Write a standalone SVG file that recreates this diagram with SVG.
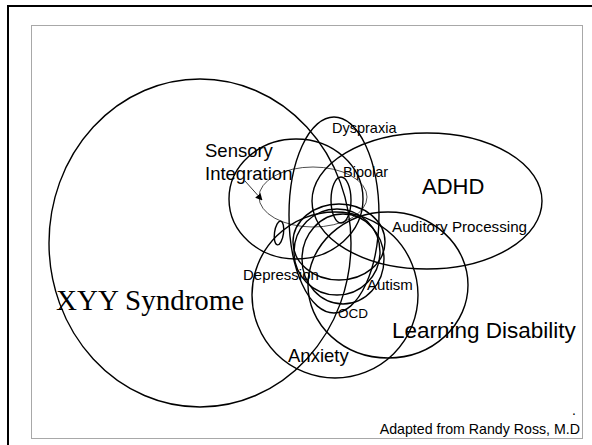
<svg xmlns="http://www.w3.org/2000/svg" width="592" height="445" viewBox="0 0 592 445">
<defs>
<style>
.e{fill:none;stroke:#000;stroke-width:1.4}
.thin{fill:none;stroke:#000;stroke-width:0.7}
.t{font-family:"Liberation Sans",Arial,sans-serif;fill:#000}
.s{font-family:"Liberation Serif","Times New Roman",serif;fill:#000}
</style>
<marker id="ah" viewBox="0 0 10 10" refX="9" refY="5" markerWidth="7" markerHeight="7" orient="auto" markerUnits="userSpaceOnUse">
<path d="M0,0 L10,5 L0,10 z" fill="#000"/>
</marker>
</defs>
<rect x="0" y="0" width="592" height="445" fill="#fff"/>
<rect x="8" y="6" width="592" height="450" fill="none" stroke="#000" stroke-width="2"/>
<rect x="31.5" y="25.5" width="551" height="413" fill="none" stroke="#a8a8a8" stroke-width="1"/>

<g id="xyy">
<ellipse class="e" cx="200" cy="243" rx="151" ry="164"/>
<text class="s" x="56" y="310" font-size="29">XYY Syndrome</text>
</g>
<g id="sensory">
<ellipse class="e" cx="296" cy="199" rx="67" ry="60"/>
<ellipse class="thin" cx="313" cy="197" rx="54" ry="30"/>
<text class="t" x="205" y="157" font-size="18.5">Sensory</text>
<text class="t" x="205" y="180" font-size="18.5">Integration</text>
</g>
<g id="dyspraxia">
<ellipse class="e" cx="334" cy="215" rx="45" ry="98"/>
<text class="t" x="332" y="133" font-size="14.5">Dyspraxia</text>
</g>
<g id="adhd">
<ellipse class="e" cx="427" cy="201" rx="115" ry="68"/>
<text class="t" x="422" y="194" font-size="22">ADHD</text>
</g>
<g id="bipolar">
<ellipse class="e" cx="341" cy="200" rx="10" ry="23"/>
<text class="t" x="343" y="177" font-size="14.5">Bipolar</text>
</g>
<g id="small">
<ellipse class="e" cx="279" cy="233" rx="4.5" ry="12" transform="rotate(8 279 233)"/>
</g>
<g id="learning">
<ellipse class="e" cx="388" cy="285" rx="80" ry="73"/>
<text class="t" x="392" y="338" font-size="22.5">Learning Disability</text>
</g>
<g id="auditory">
<text class="t" x="392" y="232" font-size="15.2">Auditory Processing</text>
</g>
<g id="anxiety">
<ellipse class="e" cx="335" cy="295" rx="83" ry="83"/>
<text class="t" x="288" y="362" font-size="18.5">Anxiety</text>
</g>
<g id="autism">
<ellipse class="e" cx="339" cy="242" rx="46" ry="38"/>
<ellipse class="e" cx="337" cy="252" rx="43" ry="43"/>
<ellipse class="e" cx="343" cy="259" rx="41" ry="45"/>
<text class="t" x="367" y="290" font-size="15">Autism</text>
</g>
<g id="depression">
<text class="t" x="243" y="280" font-size="15">Depression</text>
</g>
<g id="ocd">
<text class="t" x="338" y="318" font-size="13.5">OCD</text>
</g>
<g id="credit">
<text class="t" x="576" y="415" font-size="14" text-anchor="end">.</text>
<text class="t" x="580" y="434" font-size="14.2" text-anchor="end">Adapted from Randy Ross, M.D</text>
</g>
<g id="connectors">
<line x1="245" y1="181" x2="262" y2="200" stroke="#000" stroke-width="0.8" marker-end="url(#ah)"/>
</g>
</svg>
